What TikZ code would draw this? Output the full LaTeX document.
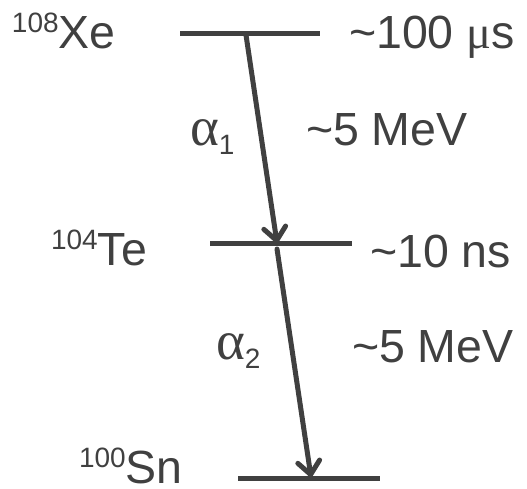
\documentclass[tikz,border=0pt]{standalone}
\usepackage{fontspec}
\setmainfont{Liberation Sans}
\newfontfamily\grk{Liberation Serif}
\usetikzlibrary{arrows.meta}
\definecolor{ink}{HTML}{404040}
\newcommand\isosup[1]{\raisebox{15.5pt}{\fontsize{28}{28}\selectfont #1}}
\newcommand\lowsub[1]{\raisebox{-9pt}{\fontsize{28}{28}\selectfont #1}}
\newcommand\galpha{{\grk\fontsize{55}{55}\selectfont α}}
\newcommand\tld{\symbol{"7E}}
\begin{document}
\begin{tikzpicture}[x=1pt,y=-1pt,
  level/.style={line width=5pt, draw=ink},
  decay/.style={line width=5pt, draw=ink, line cap=round,
    -{Straight Barb[length=13pt,width=22pt,line cap=round,line join=round]}},
  lbl/.style={anchor=base west, inner sep=0pt, outer sep=0pt, text=ink,
    font=\fontsize{46.5}{50}\selectfont},
]
\useasboundingbox (0,0) rectangle (527,488);
% levels
\coordinate (xeL) at (180,33);  \coordinate (xeR) at (320,33);
\coordinate (teL) at (210,243); \coordinate (teR) at (352,243);
\coordinate (snL) at (238,478); \coordinate (snR) at (380,478);
\draw[level] (xeL) -- (xeR);
\draw[level] (teL) -- (teR);
\draw[level] (snL) -- (snR);
% decays
\coordinate (a1s) at (246,35);  \coordinate (a1e) at (277,243);
\coordinate (a2s) at (277,249); \coordinate (a2e) at (311,477);
\draw[decay] (a1s) -- (a1e);
\draw[decay] (a2s) -- (a2e);
% labels
\node[lbl] (xe) at (12,48) {\isosup{108}Xe};
\node[lbl] (xet) at (349,48) {\tld100 {\grk μ}s};
\node[lbl] (a1) at (190,145) {\galpha\lowsub{1}};
\node[lbl] (e1) at (306,145) {\tld5 MeV};
\node[lbl] (te) at (51,265) {\isosup{104}Te};
\node[lbl] (tet) at (370,267) {\tld10 ns};
\node[lbl] (a2) at (216,359) {\galpha\lowsub{2}};
\node[lbl] (e2) at (352,362) {\tld5 MeV};
\node[lbl] (sn) at (79,483) {\isosup{100}Sn};
\end{tikzpicture}
\end{document}
